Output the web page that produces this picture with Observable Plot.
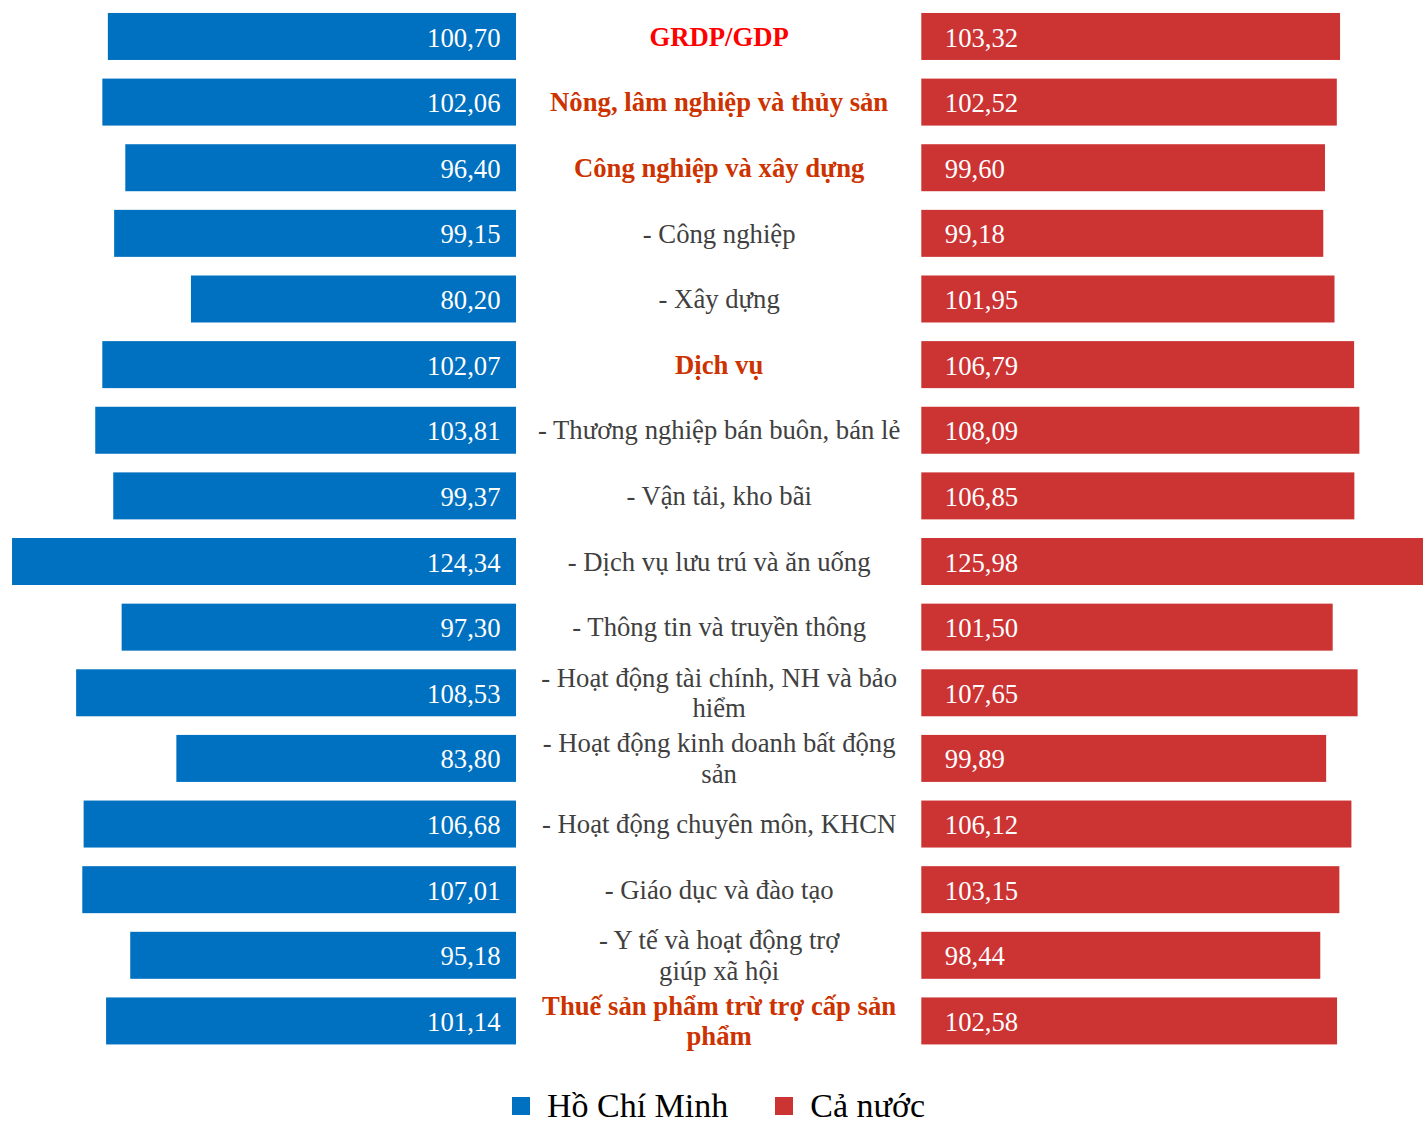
<!DOCTYPE html>
<html>
<head>
<meta charset="utf-8">
<script src="https://cdn.jsdelivr.net/npm/d3@7"></script>
<script src="https://cdn.jsdelivr.net/npm/@observablehq/plot@0.6"></script>
<style>
  html, body { margin: 0; padding: 0; background: #fff; overflow: hidden; }
  #chart svg { display: block; max-width: none; font-family: "Liberation Serif", "Times New Roman", Tinos, serif; }
  #chart svg text { font-family: "Liberation Serif", "Times New Roman", Tinos, serif; }
  #legend { position: absolute; left: 0; top: 1091px; display: flex; justify-content: center; align-items: center; width: 1423px;
    font-family: "Liberation Serif", "Times New Roman", Tinos, serif; font-size: 34px; line-height: 30px; color: #000;
    height: 30px; padding-left: 14px; box-sizing: border-box; }
  .sw { width: 18px; height: 18px; display: inline-block; margin-right: 17px; }
  .item { display: flex; align-items: center; }
</style>
</head>
<body>
<div id="chart"></div>
<div id="legend"></div>
<script>
const categories = [
  "GRDP/GDP",
  "Nông, lâm nghiệp và thủy sản",
  "Công nghiệp và xây dựng",
  "- Công nghiệp",
  "- Xây dựng",
  "Dịch vụ",
  "- Thương nghiệp bán buôn, bán lẻ",
  "- Vận tải, kho bãi",
  "- Dịch vụ lưu trú và ăn uống",
  "- Thông tin và truyền thông",
  "- Hoạt động tài chính, NH và bảo\nhiểm",
  "- Hoạt động kinh doanh bất động\nsản",
  "- Hoạt động chuyên môn, KHCN",
  "- Giáo dục và đào tạo",
  "- Y tế và hoạt động trợ\ngiúp xã hội",
  "Thuế sản phẩm trừ trợ cấp sản\nphẩm"
];
const kinds = ["total", "sector", "sector", "sub", "sub", "sector", "sub", "sub", "sub", "sub", "sub", "sub", "sub", "sub", "sub", "sector"];
const hcm = [100.70, 102.06, 96.40, 99.15, 80.20, 102.07, 103.81, 99.37, 124.34, 97.30, 108.53, 83.80, 106.68, 107.01, 95.18, 101.14];
const vn  = [103.32, 102.52, 99.60, 99.18, 101.95, 106.79, 108.09, 106.85, 125.98, 101.50, 107.65, 99.89, 106.12, 103.15, 98.44, 102.58];
const seriesNames = ["Hồ Chí Minh", "Cả nước"];

const BLUE = "#0070C0", RED = "#CC3333";
const GAP = 100; // width of the middle label column, in value units
const fmt = v => v.toFixed(2).replace(".", ",");

const rows = categories.map((c, i) => ({cat: c, kind: kinds[i], hcm: hcm[i], vn: vn[i]}));
const font = '"Liberation Serif", "Times New Roman", Tinos, serif';
const FS = 26.7;

const k = 4.053;
const plot = Plot.plot({
  width: 1423,
  height: 1051,
  marginLeft: 0, marginRight: 0, marginTop: 6.4, marginBottom: 0,
  style: `font-family: ${font}; background: #fff;`,
  x: {domain: [-516 / k, (1423 - 516) / k], axis: null},
  y: {domain: categories, axis: null, paddingInner: 0.284, paddingOuter: 0.1, round: false},
  marks: [
    Plot.barX(rows, {y: "cat", x1: d => -d.hcm, x2: 0, fill: BLUE}),
    Plot.barX(rows, {y: "cat", x1: GAP, x2: d => GAP + d.vn, fill: RED, clip: true}),
    Plot.text(rows, {y: "cat", x: 0, text: d => fmt(d.hcm), textAnchor: "end", dx: -16, dy: 1, fill: "white", fontSize: FS}),
    Plot.text(rows, {y: "cat", x: GAP, text: d => fmt(d.vn), textAnchor: "start", dx: 23, dy: 1, fill: "white", fontSize: FS}),
    Plot.text(rows.filter(d => d.kind === "sub"), {y: "cat", x: GAP / 2, text: "cat", textAnchor: "middle", lineAnchor: "middle", lineHeight: 1.13, dy: -1, fill: "#404040", fontSize: FS}),
    Plot.text(rows.filter(d => d.kind === "sector"), {y: "cat", x: GAP / 2, text: "cat", textAnchor: "middle", lineAnchor: "middle", lineHeight: 1.13, dy: -1, fill: "#CC3300", fontWeight: "bold", fontSize: FS}),
    Plot.text(rows.filter(d => d.kind === "total"), {y: "cat", x: GAP / 2, text: "cat", textAnchor: "middle", lineAnchor: "middle", lineHeight: 1.13, dy: -1, fill: "#FF0000", fontWeight: "bold", fontSize: FS})
  ]
});
document.getElementById("chart").appendChild(plot);

const legend = document.getElementById("legend");
[[seriesNames[0], BLUE], [seriesNames[1], RED]].forEach(([name, color], i) => {
  const it = document.createElement("span");
  it.className = "item";
  if (i > 0) it.style.marginLeft = "47px";
  const sw = document.createElement("span");
  sw.className = "sw";
  sw.style.background = color;
  it.appendChild(sw);
  it.appendChild(document.createTextNode(name));
  legend.appendChild(it);
});
</script>
</body>
</html>
